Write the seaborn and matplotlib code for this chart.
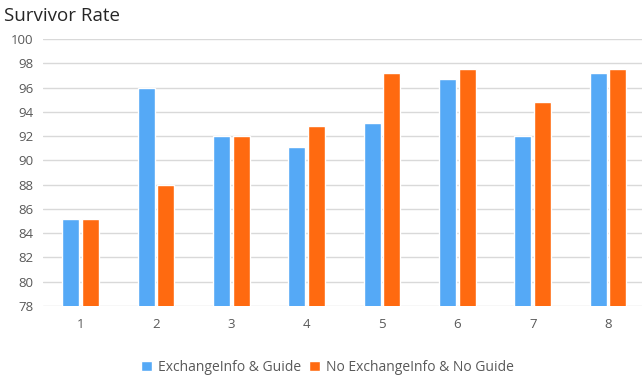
import matplotlib
matplotlib.use("Agg")
import matplotlib.pyplot as plt
import seaborn as sns
import pandas as pd

categories = ["1", "2", "3", "4", "5", "6", "7", "8"]
series_names = ["ExchangeInfo & Guide", "No ExchangeInfo & No Guide"]
exchange_guide = [85.2, 96.0, 92.0, 91.1, 93.1, 96.7, 92.0, 97.2]
no_exchange_no_guide = [85.2, 88.0, 92.0, 92.8, 97.2, 97.5, 94.8, 97.5]
colors = ["#55A9F6", "#FF6A10"]
y_ticks = list(range(78, 101, 2))

df = pd.DataFrame({
    "cat": categories * 2,
    "series": [series_names[0]] * len(categories) + [series_names[1]] * len(categories),
    "value": exchange_guide + no_exchange_no_guide,
})

sns.set_theme(style="white")
plt.rcParams["font.family"] = ["Open Sans", "DejaVu Sans"]

fig = plt.figure(figsize=(6.42, 3.82), dpi=100)
ax = fig.add_axes([0.067, 0.199, 0.933, 0.699])

sns.barplot(data=df, x="cat", y="value", hue="series", palette=colors,
            width=0.52, gap=0.13, ax=ax, saturation=1, legend=True)

ax.set_ylim(78, 100)
ax.set_yticks(y_ticks)
ax.set_xlim(-0.5, 7.45)
ax.yaxis.grid(True, color="#D9D9D9", linewidth=1)
ax.set_axisbelow(True)
for s in ax.spines.values():
    s.set_visible(False)
ax.tick_params(axis="both", length=0, labelsize=9.5, labelcolor="#595959")
ax.tick_params(axis="x", pad=9)
ax.tick_params(axis="y", pad=7)
ax.set_xlabel("")
ax.set_ylabel("")

fig.text(0.006, 0.958, "Survivor Rate", fontsize=13.5, color="#262626", va="center", ha="left")

handles, labels = ax.get_legend_handles_labels()
ax.get_legend().remove()
fig.legend(handles, labels, loc="center", bbox_to_anchor=(0.51, 0.038), ncol=2,
           frameon=False, fontsize=10, handlelength=0.8, handleheight=0.8,
           handletextpad=0.4, columnspacing=0.6, labelcolor="#595959")

fig.savefig("out.png", dpi=100)
